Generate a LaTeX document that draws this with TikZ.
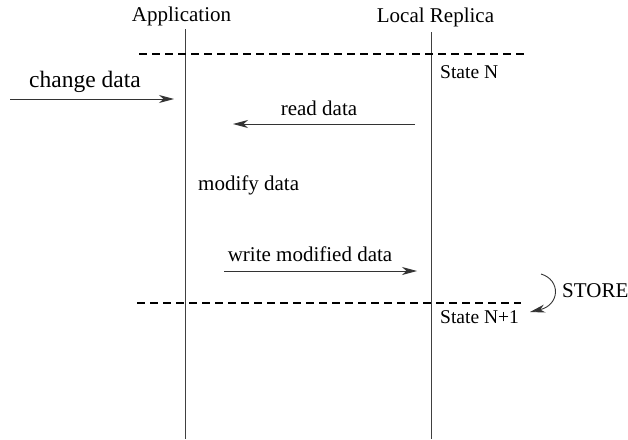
\documentclass[tikz,border=0pt]{standalone}
\usepackage{fontspec}
\setmainfont{Liberation Serif}
\usetikzlibrary{positioning, arrows.meta}

\tikzset{
  lifeline/.style={draw=black!75, line width=0.9pt},
  statesep/.style={draw=black, line width=2pt, dash pattern=on 8pt off 5pt},
  msg/.style={draw=black!80, line width=0.9pt,
    -{Stealth[length=15pt, width=8pt, inset=4.5pt]}},
  lbl/.style={inner sep=0pt, anchor=base, font=\fontsize{21}{24}\selectfont},
  statelbl/.style={inner sep=0pt, anchor=base west, font=\fontsize{19.5}{23}\selectfont}
}

\begin{document}
\begin{tikzpicture}[x=1pt, y=-1pt]
  \useasboundingbox (0,0) rectangle (628,439);
  % Headers of the two lifelines
  \node[lbl] (app) at (181.5,21) {Application};
  \node[lbl] (rep) at (435.5,22) {Local Replica};
  % Lifelines
  \coordinate (appTop) at (185,29);
  \coordinate (appBot) at (185,439);
  \coordinate (repTop) at (431.5,32);
  \coordinate (repBot) at (431.5,439);
  \draw[lifeline] (appTop) -- (appBot);
  \draw[lifeline] (repTop) -- (repBot);
  % State separators
  \coordinate (sepNa) at (139,53.5);
  \coordinate (sepNb) at (524,53.5);
  \coordinate (sepMa) at (137,302.5);
  \coordinate (sepMb) at (521,302.5);
  \draw[statesep] (sepNa) -- (sepNb);
  \draw[statesep] (sepMa) -- (sepMb);
  \node[statelbl] (stN) at (440,78) {State N};
  \node[statelbl] (stM) at (440,323) {State N+1};
  % Incoming request
  \node[lbl, font=\fontsize{23.5}{27}\selectfont] (chg) at (85,87) {change data};
  \coordinate (chgA) at (10,99);
  \coordinate (chgB) at (174,99);
  \draw[msg] (chgA) -- (chgB);
  % Read from the replica
  \node[lbl] (rd) at (319,115) {read data};
  \coordinate (rdA) at (415,124);
  \coordinate (rdB) at (233,124);
  \draw[msg] (rdA) -- (rdB);
  % Local step
  \node[lbl, anchor=base west] (mod) at (198,190) {modify data};
  % Write back
  \node[lbl] (wr) at (310,261) {write modified data};
  \coordinate (wrA) at (224,271);
  \coordinate (wrB) at (417,271);
  \draw[msg] (wrA) -- (wrB);
  % Store step
  \node[lbl, anchor=base west] (st) at (562,297) {STORE};
  \coordinate (stA) at (541,274);
  \coordinate (stB) at (530,312);
  \draw[msg] (stA) .. controls (561,280) and (560,305) .. (stB);
\end{tikzpicture}
\end{document}
